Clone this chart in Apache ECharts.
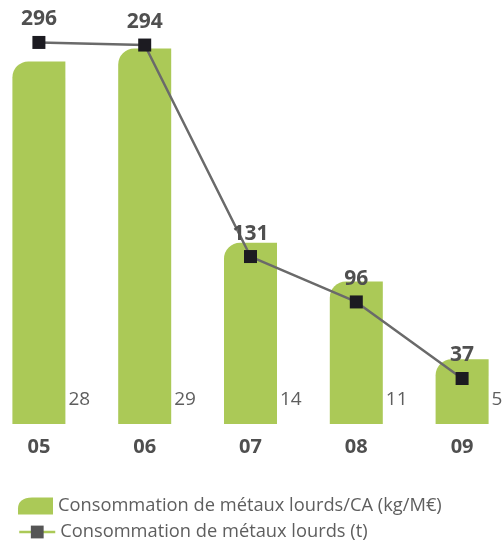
<!DOCTYPE html>
<html>
<head>
<meta charset="utf-8">
<script src="https://cdn.jsdelivr.net/npm/echarts@6/dist/echarts.min.js"></script>
<style>
  html, body { margin: 0; padding: 0; background: #fff; overflow: hidden; }
  #chart { position: absolute; left: -14px; top: 0; width: 529px; height: 541px; }
</style>
</head>
<body>
<div id="chart"></div>
<script>
// Years (2005–2009)
const years = ['05', '06', '07', '08', '09'];
// Heavy-metal consumption per turnover (kg/M€)
const ratioPerCA = [28, 29, 14, 11, 5];
// Heavy-metal consumption (t)
const tonnes = [296, 294, 131, 96, 37];

const barName = 'Consommation de métaux lourds/CA (kg/M€)';
const lineName = 'Consommation de métaux lourds (t)';

const green = '#abc957';
const font = '"Open Sans", "Noto Sans", sans-serif';

const chart = echarts.init(document.getElementById('chart'), null, { renderer: 'canvas' });

chart.setOption({
  animation: false,
  backgroundColor: '#ffffff',
  textStyle: { fontFamily: font },
  // the canvas is shifted 14px left so the outer bars sit close to the edges
  grid: { left: 0, right: 0, top: 20, bottom: 117, containLabel: false },
  xAxis: {
    type: 'category',
    data: years,
    axisLine: { show: false },
    axisTick: { show: false },
    axisLabel: {
      margin: 13,
      fontSize: 20,
      fontWeight: 'bold',
      color: '#4f4f4f',
      fontFamily: font
    }
  },
  yAxis: [
    { type: 'value', min: 0, max: 31.2, show: false, splitLine: { show: false } },
    { type: 'value', min: 1.93, max: 313.3, show: false, splitLine: { show: false } }
  ],
  legend: [
    {
      left: 27, top: 492,
      itemWidth: 35, itemHeight: 17, itemGap: 0,
      itemTextGap: 11,
      icon: 'path://M0,11 C0,4 5,0 14,0 L35,0 L35,17 L0,17 Z',
      data: [barName],
      textStyle: { fontSize: 18.3, color: '#5e5e5e', fontFamily: font }
    },
    {
      left: 27, top: 518,
      itemWidth: 36, itemHeight: 16, itemGap: 0,
      itemTextGap: 10,
      data: [{
        name: lineName,
        itemStyle: { color: '#555555' },
        lineStyle: { color: green, width: 2.5 }
      }],
      textStyle: { fontSize: 18.3, color: '#5e5e5e', fontFamily: font }
    }
  ],
  series: [
    {
      name: barName,
      type: 'bar',
      data: ratioPerCA,
      barWidth: 53,
      itemStyle: { color: green, borderRadius: [16, 0, 0, 0] },
      label: {
        show: true,
        position: 'insideBottomRight',
        distance: 0,
        offset: [3, -24],
        align: 'left',
        verticalAlign: 'middle',
        fontSize: 19,
        color: '#5e5e5e',
        fontFamily: font
      }
    },
    {
      name: lineName,
      type: 'line',
      yAxisIndex: 1,
      data: tonnes,
      symbol: 'rect',
      symbolSize: 13,
      lineStyle: { color: '#6a6a6a', width: 2.5 },
      itemStyle: { color: '#1c1b21' },
      label: {
        show: true,
        position: 'top',
        distance: 6,
        fontSize: 21,
        fontWeight: 'bold',
        color: '#505050',
        fontFamily: font
      }
    }
  ]
});
</script>
</body>
</html>
